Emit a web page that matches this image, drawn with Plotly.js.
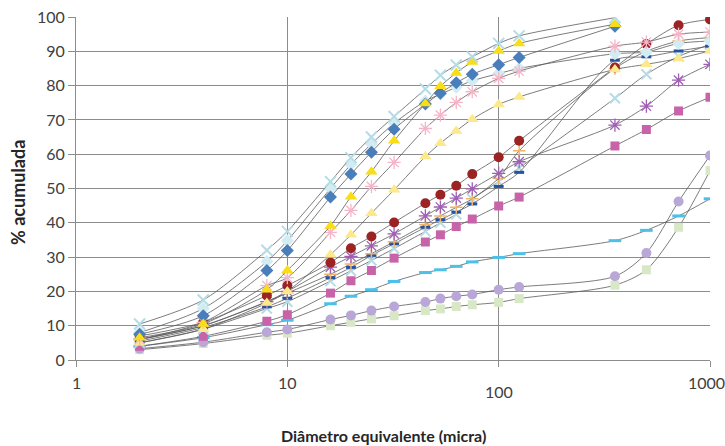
<!DOCTYPE html>
<html>
<head>
<meta charset="utf-8">
<script src="https://cdn.plot.ly/plotly-3.0.1.min.js"></script>
<style>html,body{margin:0;padding:0;background:#fff;}#chart{width:725px;height:446px;}</style>
</head>
<body>
<div id="chart"></div>
<script>
// Particle sizes (micra)
const xFull = [2,4,8,10,16,20,25,32,45,53,63,75,100,125,355,500,710,1000];
const xTop  = [2,4,8,10,16,20,25,32,45,53,63,75,100,125,355];

// Cumulative % per sample
const serieA = [10.5,17.5,32,37.5,52,59,65,71,79,83,86,88.4,92.3,94.5,99.8];
const serieB = [7.5,12.9,26.1,31.9,47.5,54.2,60.6,67.3,74.6,77.8,80.8,83.3,86.1,88.2,97.3];
const serieC = [6.5,10.5,20.5,26.1,39.1,47.6,54.9,63.9,74.8,79.8,83.7,86.9,90.1,92.3,97.9];
const serieD = [6,11,21.7,24,37.2,43.6,50.6,57.6,67.5,71.4,75.1,78.2,82.1,84.2,91.5,92.7,95.0,95.6];
const serieE = [5,9,16.6,20,30.7,36.5,42.8,49.6,59.3,63.2,66.8,70.2,74.5,76.7,84.7,86.2,87.9,90.1];
const serieF = [7,11,18.8,21.7,28.4,32.6,36,40.1,45.7,48.2,50.8,54.2,59.1,63.9,85.3,92.1,97.6,99.3];
const serieG = [6,10,17,20,27.1,30.2,33.3,36.8,42,44.6,47.2,49.9,54.4,57.8,68.5,74,81.6,86.2];
const serieH = [4,6.9,11.3,13.2,19.5,23.1,26.1,29.7,34.4,36.5,38.9,41.1,44.9,47.5,62.4,67.2,72.6,76.6];
const serieI = [4,6.5,10.3,11.6,16.4,18.6,20.5,22.9,25.5,26.3,27.3,28.6,29.9,31,34.8,37.8,42,47];
const serieJ = [3.3,5.2,8.1,8.9,11.8,13,14.4,15.6,16.9,17.9,18.6,19.1,20.5,21.3,24.4,31.2,46.2,59.6];
const serieK = [3,4.8,7.2,7.8,10,11,12,12.9,14.4,14.9,15.6,16.1,16.8,17.9,21.8,26.3,38.7,55.2];
const serieL = [8,15,28.7,34.8,50,57,63,69,75.5,77.5,79.5,81.4,83.5,85,89.3,89.8,92.3,93];
const serieM = [5.5,9.5,15.5,18,24,27,30.5,33.9,38.7,40.9,43.1,45.5,50.6,54.7,87.4,88.4,90.1,91.5];
const serieN = [6,10,17,19.5,25,28,31,34.5,39.5,42,44.5,47,53,61,85,90,93,94];
const serieP = [5,9,15,17,23,26,29,32.5,37.5,40,42.5,46.9,52,56,76.3,83.3,88.5,92];

const xTickVals = [1,10,100,1000];
const xTickText = ['1','10','100','1000'];

const LINE = {color:'#5a5a5a', width:0.8, shape:'spline', smoothing:0.8};
function tr(x, y, symbol, color, size, openW){
  const m = {symbol:symbol, size:size, color:color};
  if (openW) m.line = {color:color, width:openW}; else m.line = {width:0};
  return {x:x, y:y, type:'scatter', mode:'lines+markers', line:LINE, marker:m, hoverinfo:'skip', showlegend:false};
}

const data = [
  tr(xFull, serieK, 'square', '#d8e8c6', 9),
  tr(xFull, serieJ, 'circle', '#b9a7d7', 10),
  tr(xFull, serieI, 'line-ew-open', '#4dc0ea', 9, 3),
  tr(xFull, serieH, 'square', '#c963a9', 9),
  tr(xFull, serieP, 'x-thin-open', '#b5dce6', 10, 2),
  tr(xFull, serieM, 'line-ew-open', '#2452a4', 7, 3),
  tr(xFull, serieN, 'cross-thin-open', '#f2b468', 9, 1.5),
  tr(xFull, serieG, 'asterisk-open', '#9f5fb5', 11, 1.3),
  tr(xFull, serieF, 'circle', '#9b2323', 10),
  tr(xFull, serieE, 'triangle-up', '#fbe98c', 11),
  tr(xFull, serieL, 'diamond', '#d3ecf2', 10),
  tr(xFull, serieD, 'asterisk-open', '#f5b5c8', 11, 1.3),
  tr(xTop, serieB, 'diamond', '#4a7ebb', 10),
  tr(xTop, serieC, 'triangle-up', '#f9dd16', 11),
  tr(xTop, serieA, 'x-thin-open', '#b5dce6', 11, 2)
];

const FONT = 'Lato, "Open Sans", sans-serif';
const annotations = xTickVals.map((v,i)=>({
  x: Math.log10(v), xref:'x', y:0, yref:'paper', yanchor:'top', xanchor:'center',
  yshift: v===100 ? -20 : -11, xshift: v===1000 ? -4 : 0, showarrow:false, text:xTickText[i],
  font:{family:FONT, size:16, color:'#404040'}
}));
annotations.push({
  x:0.485, xref:'paper', y:-0.219, yref:'paper', yanchor:'middle', xanchor:'center',
  showarrow:false, text:'<b>Diâmetro equivalente (micra)</b>',
  font:{family:FONT, size:16, color:'#262626'}
});
annotations.push({
  x:-0.0915, xref:'paper', y:0.49, yref:'paper', yanchor:'middle', xanchor:'center',
  textangle:-90, showarrow:false, text:'<b>% acumulada</b>',
  font:{family:FONT, size:18, color:'#262626'}
});

const layout = {
  width:725, height:446,
  margin:{l:76, r:15, t:17, b:86},
  paper_bgcolor:'#fff', plot_bgcolor:'#fff',
  xaxis:{type:'log', range:[0,3], tickvals:xTickVals, showticklabels:false,
    showgrid:true, gridcolor:'#8c8c8c', gridwidth:1, ticks:'outside', ticklen:6, tickcolor:'#8c8c8c',
    showline:true, linecolor:'#8c8c8c', zeroline:false, fixedrange:true},
  yaxis:{range:[0,100], dtick:10, showgrid:true, gridcolor:'#8c8c8c', gridwidth:1,
    ticks:'outside', ticklen:7, tickcolor:'#8c8c8c', showline:true, linecolor:'#8c8c8c', zeroline:false,
    tickfont:{family:FONT, size:16, color:'#404040'}},
  annotations:annotations
};
Plotly.newPlot('chart', data, layout, {displayModeBar:false, staticPlot:true});
</script>
</body>
</html>
